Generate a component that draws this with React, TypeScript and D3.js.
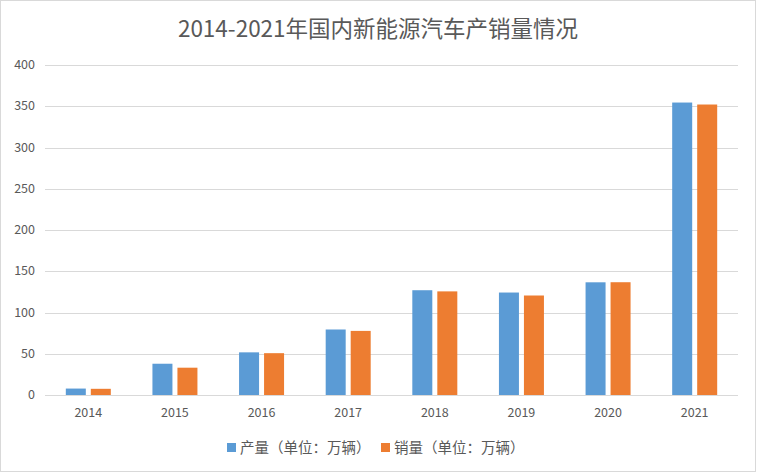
import React, { useEffect, useRef } from 'react';
import * as d3 from 'd3';

const years = ['2014', '2015', '2016', '2017', '2018', '2019', '2020', '2021'];
const production = [7.8, 37.9, 51.7, 79.4, 127, 124.2, 136.6, 354.5];
const sales = [7.5, 33.1, 50.7, 77.7, 125.6, 120.6, 136.7, 352.1];
const yTicks = [0, 50, 100, 150, 200, 250, 300, 350, 400];
const seriesNames = ['产量（单位：万辆）', '销量（单位：万辆）'];
const colors = ['#5B9BD5', '#ED7D31'];

const FONT = '"Noto Sans CJK SC", "Open Sans", sans-serif';

const App: React.FC = () => {
  const svgRef = useRef<SVGSVGElement>(null);

  useEffect(() => {
    if (!svgRef.current) return;
    const width = 758;
    const height = 474;
    const margin = { top: 65, right: 20, bottom: 79, left: 45 };

    const svg = d3.select(svgRef.current);
    svg.selectAll('*').remove();

    svg.append('rect')
      .attr('x', 0.5).attr('y', 0.5)
      .attr('width', width - 3).attr('height', height - 3)
      .attr('fill', '#fff')
      .attr('stroke', '#D9D9D9');

    svg.append('text')
      .attr('x', 378).attr('y', 37)
      .attr('text-anchor', 'middle')
      .attr('font-family', FONT)
      .attr('font-size', 22.5)
      .attr('fill', '#595959')
      .text('2014-2021年国内新能源汽车产销量情况');

    const x = d3.scaleBand<string>()
      .domain(years)
      .range([margin.left, width - margin.right]);

    const y = d3.scaleLinear()
      .domain([0, 400])
      .range([height - margin.bottom, margin.top]);

    // Gridlines
    svg.append('g')
      .selectAll('line')
      .data(yTicks)
      .enter().append('line')
      .attr('x1', margin.left)
      .attr('x2', width - margin.right)
      .attr('y1', d => Math.round(y(d)) + 0.5)
      .attr('y2', d => Math.round(y(d)) + 0.5)
      .attr('stroke', '#D9D9D9')
      .attr('stroke-width', 1);

    // Y labels
    svg.append('g')
      .selectAll('text')
      .data(yTicks)
      .enter().append('text')
      .attr('x', 35)
      .attr('y', d => y(d) + 4)
      .attr('text-anchor', 'end')
      .attr('font-family', FONT)
      .attr('font-size', 12.5)
      .attr('fill', '#595959')
      .text(d => d);

    // X labels
    svg.append('g')
      .selectAll('text')
      .data(years)
      .enter().append('text')
      .attr('x', d => (x(d) as number) + x.bandwidth() / 2)
      .attr('y', 417)
      .attr('text-anchor', 'middle')
      .attr('font-family', FONT)
      .attr('font-size', 12.5)
      .attr('fill', '#595959')
      .text(d => d);

    const barW = 20;
    const gap = 5;
    const series = [production, sales];

    series.forEach((vals, si) => {
      svg.append('g')
        .selectAll('rect')
        .data(vals)
        .enter().append('rect')
        .attr('x', (_, i) => {
          const c = (x(years[i]) as number) + x.bandwidth() / 2;
          return si === 0 ? c - gap / 2 - barW : c + gap / 2;
        })
        .attr('y', d => y(d))
        .attr('width', barW)
        .attr('height', d => y(0) - y(d))
        .attr('fill', colors[si]);
    });

    // Legend
    const legendX = [227, 381];
    seriesNames.forEach((name, i) => {
      svg.append('rect')
        .attr('x', legendX[i]).attr('y', 443)
        .attr('width', 9).attr('height', 9)
        .attr('fill', colors[i]);
      svg.append('text')
        .attr('x', legendX[i] + 13).attr('y', 453)
        .attr('font-family', FONT)
        .attr('font-size', 14.5)
        .attr('fill', '#595959')
        .text(name);
    });
  }, []);

  return (
    <svg
      ref={svgRef}
      width={758}
      height={474}
      style={{ position: 'absolute', left: 0, top: 0 }}
    />
  );
};

export default App;
